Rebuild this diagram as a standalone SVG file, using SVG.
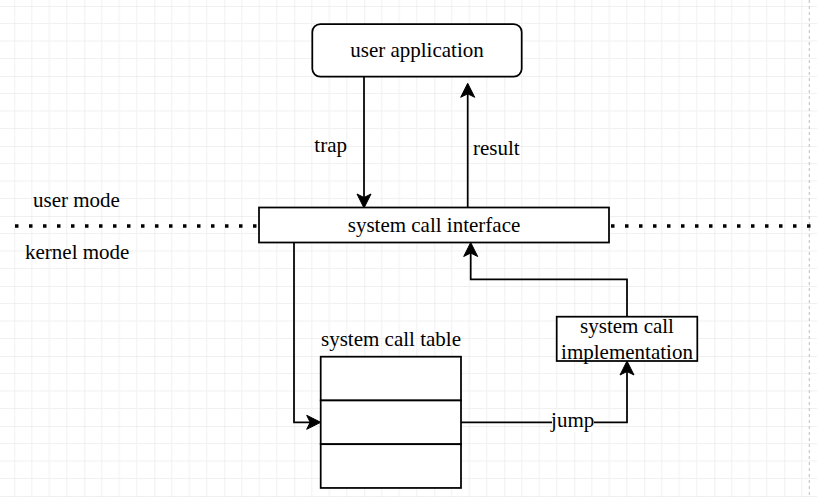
<svg xmlns="http://www.w3.org/2000/svg" width="817" height="497" viewBox="0 0 817 497">
<defs>
<pattern id="grid" patternUnits="userSpaceOnUse" x="14.3" y="6" width="70" height="70">
<path d="M17.5,0V70M35,0V70M52.5,0V70M0,17.5H70M0,35H70M0,52.5H70" stroke="#f1f1f1" stroke-width="1" fill="none"/>
<path d="M0,0V70M0,0H70" stroke="#e2e2e2" stroke-width="1" fill="none"/>
</pattern>
<marker id="arr" markerUnits="userSpaceOnUse" markerWidth="20" markerHeight="20" refX="3.5" refY="0" orient="auto" overflow="visible">
<path d="M14,0 L0,-7 L3.5,0 L0,7 Z" fill="#000" stroke="#000" stroke-width="1"/>
</marker>
</defs>
<style>
text{font-size:21px;fill:#000}
.c{text-anchor:middle}
.box{fill:#fff;stroke:#000;stroke-width:1.75}
.ln{fill:none;stroke:#000;stroke-width:1.75}
.dot{fill:none;stroke:#000;stroke-width:3.5;stroke-dasharray:3.5 10.5}
</style>
<rect width="817" height="497" fill="#fff"/>
<rect width="817" height="497" fill="url(#grid)"/>
<line x1="809.3" y1="0" x2="809.3" y2="497" stroke="#bdbdbd" stroke-width="1" stroke-dasharray="3 3"/>

<g font-family="'Liberation Serif', 'DejaVu Serif', serif">
<g id="labels">
<text x="33" y="207">user mode</text>
<text x="25" y="259">kernel mode</text>
</g>

<g id="connectors">
<line class="dot" x1="15" y1="226" x2="259" y2="226"/>
<line class="dot" x1="611" y1="226" x2="817" y2="226"/>
<path class="ln" d="M364,76.7V197.5" marker-end="url(#arr)"/>
<path class="ln" d="M467.7,207.5V93.8" marker-end="url(#arr)"/>
<path class="ln" d="M294,242.5V422.3H310.2" marker-end="url(#arr)"/>
<path class="ln" d="M627,316.7V279.3H470.7V253" marker-end="url(#arr)"/>
<path class="ln" d="M461,422.3H627V371.5" marker-end="url(#arr)"/>
<text x="330.7" y="151.7" class="c">trap</text>
<text x="496.3" y="155" class="c">result</text>
<rect x="552" y="410" width="42" height="22" fill="#fff"/>
<text x="572.7" y="426.7" class="c">jump</text>
</g>

<g id="user-application">
<rect class="box" x="312.3" y="24" width="209.4" height="52.7" rx="8" ry="8"/>
<text x="417" y="57" class="c">user application</text>
</g>

<g id="system-call-interface">
<rect class="box" x="259" y="207.5" width="350" height="35"/>
<text x="434" y="232" class="c">system call interface</text>
</g>

<g id="system-call-table">
<text x="391" y="345.7" class="c">system call table</text>
<rect class="box" x="320.7" y="356.7" width="140.3" height="43.75"/>
<rect class="box" x="320.7" y="400.45" width="140.3" height="43.75"/>
<rect class="box" x="320.7" y="444.2" width="140.3" height="43.75"/>
</g>

<g id="system-call-implementation">
<rect class="box" x="556.7" y="316.7" width="140.6" height="44.3"/>
<text x="627" y="333.3" class="c">system call</text>
<text x="627" y="359.3" class="c">implementation</text>
</g>
</g>
</svg>
